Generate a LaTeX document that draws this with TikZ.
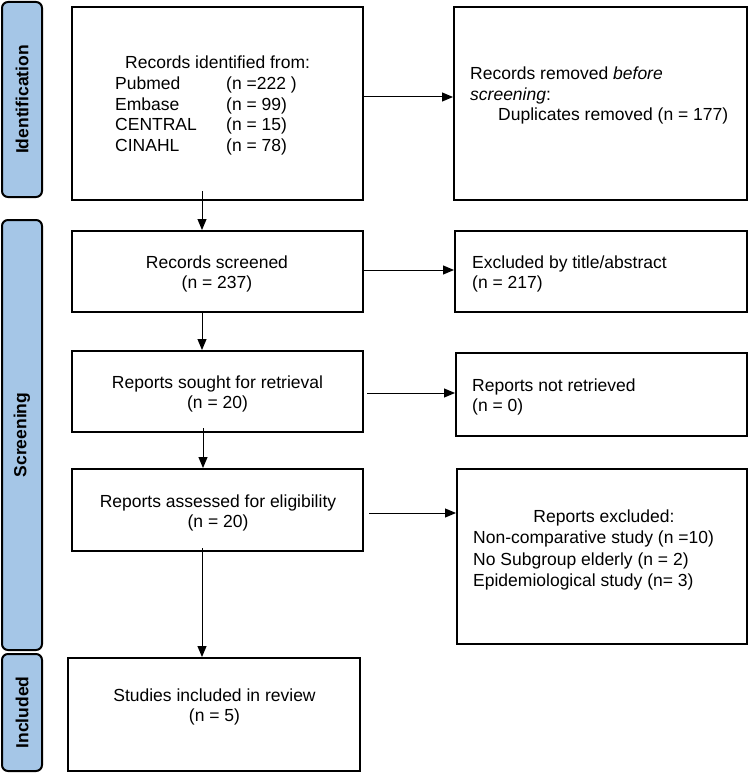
\documentclass[tikz,border=0pt]{standalone}
\usepackage{fontspec}
\setmainfont{Liberation Sans}
\usetikzlibrary{arrows.meta}
\definecolor{phase}{RGB}{165,198,231}
\tikzset{
  box/.style={draw=black, line width=2pt, fill=white, inner sep=0pt},
  phasebox/.style={draw=black, line width=2pt, fill=phase, rounded corners=6pt, inner sep=0pt},
  phasetext/.style={font=\bfseries\fontsize{17.5}{20.5}\selectfont, rotate=90},
  txt/.style={font=\fontsize{17.5}{20.5}\selectfont, inner sep=0pt},
  arr/.style={line width=1pt, -{Triangle[length=11pt,width=9pt]}},
}
\begin{document}
\begin{tikzpicture}[x=1pt,y=-1pt]
\useasboundingbox (0,0) rectangle (749,773);
% phase labels
\node[phasebox, minimum width=40pt, minimum height=195pt] (pid) at (22,99.5) {};
\node[phasetext] (tid) at (pid.center) {Identification};
\node[phasebox, minimum width=40pt, minimum height=430pt] (psc) at (22,435) {};
\node[phasetext] (tsc) at (psc.center) {Screening};
\node[phasebox, minimum width=40pt, minimum height=117pt] (pin) at (22,712.5) {};
\node[phasetext] (tin) at (pin.center) {Included};
% left column
\node[box, minimum width=291pt, minimum height=193pt] (b1) at (217.5,103.5) {};
\node[box, minimum width=291pt, minimum height=81pt] (b2) at (217.5,271.5) {};
\node[box, minimum width=291pt, minimum height=81pt] (b3) at (217.5,391.5) {};
\node[box, minimum width=291pt, minimum height=82pt] (b4) at (217.5,510) {};
\node[box, minimum width=292pt, minimum height=113pt] (b5) at (214,714.5) {};
% right column
\node[box, minimum width=293pt, minimum height=193pt] (r1) at (600.5,103.5) {};
\node[box, minimum width=292pt, minimum height=81pt] (r2) at (601,271.5) {};
\node[box, minimum width=291pt, minimum height=83pt] (r3) at (601.5,394.5) {};
\node[box, minimum width=290pt, minimum height=175pt] (r4) at (602,556.5) {};
% texts left
\node[txt, anchor=base west] (t1a) at (125,69) {Records identified from:};
\node[txt, anchor=base west] (t1b) at (115,90) {\makebox[111pt][l]{Pubmed}(n =222 )};
\node[txt, anchor=base west] (t1c) at (115,111) {\makebox[111pt][l]{Embase}(n = 99)};
\node[txt, anchor=base west] (t1d) at (115,131) {\makebox[111pt][l]{CENTRAL}(n = 15)};
\node[txt, anchor=base west] (t1e) at (115,151) {\makebox[111pt][l]{CINAHL}(n = 78)};
\node[txt, align=center] (t2) at (217,274) {Records screened\\(n = 237)};
\node[txt, align=center] (t3) at (217.5,394) {Reports sought for retrieval\\(n = 20)};
\node[txt, align=center] (t4) at (218,513) {Reports assessed for eligibility\\(n = 20)};
\node[txt, align=center] (t5) at (214.5,707) {Studies included in review\\(n = 5)};
% texts right
\node[txt, anchor=base west] (s1a) at (470,80) {Records removed \textit{before}};
\node[txt, anchor=base west] (s1b) at (470,100.5) {\textit{screening}:};
\node[txt, anchor=base west] (s1c) at (498,121) {Duplicates removed (n = 177)};
\node[txt, anchor=base west] (s2a) at (472,268) {Excluded by title/abstract};
\node[txt, anchor=base west] (s2b) at (472,288.5) {(n = 217)};
\node[txt, anchor=base west] (s3a) at (472,391) {Reports not retrieved};
\node[txt, anchor=base west] (s3b) at (472,411.5) {(n = 0)};
\node[txt, anchor=base] (s4a) at (604,522) {Reports excluded:};
\node[txt, anchor=base west] (s4b) at (473,543.5) {Non-comparative study (n =10)};
\node[txt, anchor=base west] (s4c) at (473,565) {No Subgroup elderly (n = 2)};
\node[txt, anchor=base west] (s4d) at (473,586) {Epidemiological study (n= 3)};
% connectors
\coordinate (ax) at (202,0);
\coordinate (ax3) at (203,0);
\draw[arr] ([yshift=10pt]b1.south -| ax) -- (b2.north -| ax);
\draw[arr] ([yshift=2pt]b2.south -| ax) -- (b3.north -| ax);
\draw[arr] ([yshift=5pt]b3.south -| ax3) -- (b4.north -| ax3);
\draw[arr] ([yshift=4pt]b4.south -| ax) -- (b5.north -| ax);
\coordinate (h1) at (0,97);
\coordinate (h2) at (0,270);
\coordinate (h3) at (0,393);
\coordinate (h4) at (0,513);
\draw[arr] (b1.east |- h1) -- (r1.west |- h1);
\draw[arr] (b2.east |- h2) -- (r2.west |- h2);
\draw[arr] ([xshift=3pt]b3.east |- h3) -- (r3.west |- h3);
\draw[arr] ([xshift=5pt]b4.east |- h4) -- (r4.west |- h4);
\end{tikzpicture}
\end{document}
